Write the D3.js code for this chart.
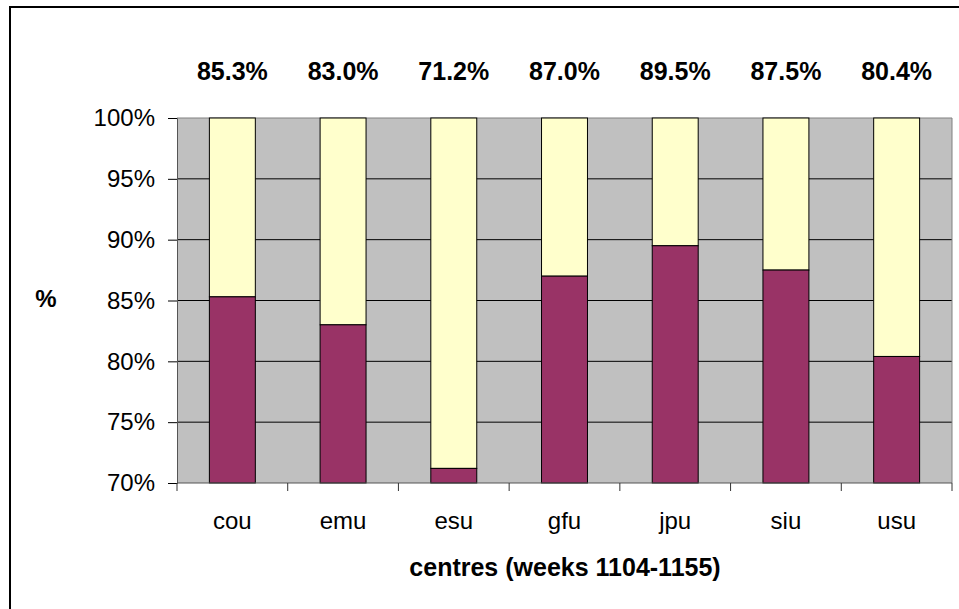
<!DOCTYPE html>
<html>
<head>
<meta charset="utf-8">
<script src="https://cdn.jsdelivr.net/npm/d3@7"></script>
<style>
  body { margin: 0; background: #fff; }
  text { font-family: "Liberation Sans", Arial, sans-serif; fill: #000; }
</style>
</head>
<body>
<div id="chart"></div>
<script>
// data
const centres = ["cou", "emu", "esu", "gfu", "jpu", "siu", "usu"];
const shares = [85.3, 83.0, 71.2, 87.0, 89.5, 87.5, 80.4];
const yTicks = [70, 75, 80, 85, 90, 95, 100];

const W = 959, H = 609;
const plot = {left: 177, right: 952, top: 118, bottom: 483};

const svg = d3.select("#chart")
  .append("svg")
  .attr("width", W)
  .attr("height", H);

// outer frame (runs past the window on right and bottom)
svg.append("rect")
  .attr("x", 10).attr("y", 7)
  .attr("width", W + 20).attr("height", H + 20)
  .attr("fill", "white")
  .attr("stroke", "black")
  .attr("stroke-width", 2);

// scales
const x = d3.scaleBand()
  .domain(centres)
  .range([plot.left, plot.right])
  .padding(0);

const y = d3.scaleLinear()
  .domain([70, 100])
  .range([plot.bottom, plot.top]);

const barW = x.bandwidth() * 0.415;

// plot background
svg.append("rect")
  .attr("x", plot.left).attr("y", plot.top)
  .attr("width", plot.right - plot.left)
  .attr("height", plot.bottom - plot.top)
  .attr("fill", "#c0c0c0");

// gridlines
svg.append("g")
  .selectAll("line")
  .data(yTicks.filter(t => t > 70 && t < 100))
  .enter()
  .append("line")
  .attr("x1", plot.left).attr("x2", plot.right)
  .attr("y1", d => y(d)).attr("y2", d => y(d))
  .attr("stroke", "#000")
  .attr("stroke-width", 1);

// top and right border of plot
svg.append("line")
  .attr("x1", plot.left).attr("x2", plot.right)
  .attr("y1", y(100)).attr("y2", y(100))
  .attr("stroke", "#808080");
svg.append("line")
  .attr("x1", plot.right).attr("x2", plot.right)
  .attr("y1", plot.top).attr("y2", plot.bottom)
  .attr("stroke", "#808080");

// yellow part (remaining share up to 100%)
svg.append("g")
  .selectAll("rect")
  .data(shares)
  .enter()
  .append("rect")
  .attr("x", (d, i) => x(centres[i]) + (x.bandwidth() - barW) / 2)
  .attr("y", y(100))
  .attr("width", barW)
  .attr("height", d => y(d) - y(100))
  .attr("fill", "#ffffcc")
  .attr("stroke", "#000")
  .attr("stroke-width", 1);

// purple part
svg.append("g")
  .selectAll("rect")
  .data(shares)
  .enter()
  .append("rect")
  .attr("x", (d, i) => x(centres[i]) + (x.bandwidth() - barW) / 2)
  .attr("y", d => y(d))
  .attr("width", barW)
  .attr("height", d => y(70) - y(d))
  .attr("fill", "#993366")
  .attr("stroke", "#000")
  .attr("stroke-width", 1);

// Y AXIS
const yAxis = svg.append("g")
  .attr("transform", `translate(${plot.left},0)`)
  .call(d3.axisLeft(y).tickValues(yTicks).tickSize(9).tickPadding(13)
    .tickFormat(d => d + "%"));
yAxis.select(".domain").attr("stroke", "#555");
yAxis.selectAll(".tick line").attr("stroke", "#000");
yAxis.selectAll("text")
  .style("font-size", "24px")
  .style("font-family", "Liberation Sans, Arial, sans-serif");

// X AXIS (ticks sit on category boundaries)
const xAxis = svg.append("g")
  .attr("transform", `translate(0,${plot.bottom})`);
xAxis.append("line")
  .attr("x1", plot.left).attr("x2", plot.right)
  .attr("stroke", "#555");
xAxis.selectAll(".bound")
  .data(d3.range(centres.length + 1))
  .enter()
  .append("line")
  .attr("class", "bound")
  .attr("x1", i => plot.left + i * x.step())
  .attr("x2", i => plot.left + i * x.step())
  .attr("y1", 0).attr("y2", 8)
  .attr("stroke", "#333");
xAxis.selectAll(".cat")
  .data(centres)
  .enter()
  .append("text")
  .attr("class", "cat")
  .attr("x", d => x(d) + x.bandwidth() / 2)
  .attr("y", 46)
  .attr("text-anchor", "middle")
  .style("font-size", "24px")
  .text(d => d);

// value labels above the plot
svg.append("g")
  .selectAll("text")
  .data(shares)
  .enter()
  .append("text")
  .attr("x", (d, i) => x(centres[i]) + x.bandwidth() / 2)
  .attr("y", 80)
  .attr("text-anchor", "middle")
  .style("font-size", "25px")
  .style("font-weight", "bold")
  .text(d => d.toFixed(1) + "%");

// axis titles
svg.append("text")
  .attr("x", 46).attr("y", 307)
  .attr("text-anchor", "middle")
  .style("font-size", "24px")
  .style("font-weight", "bold")
  .text("%");

svg.append("text")
  .attr("x", 565).attr("y", 576)
  .attr("text-anchor", "middle")
  .style("font-size", "25px")
  .style("font-weight", "bold")
  .text("centres (weeks 1104-1155)");
</script>
</body>
</html>
